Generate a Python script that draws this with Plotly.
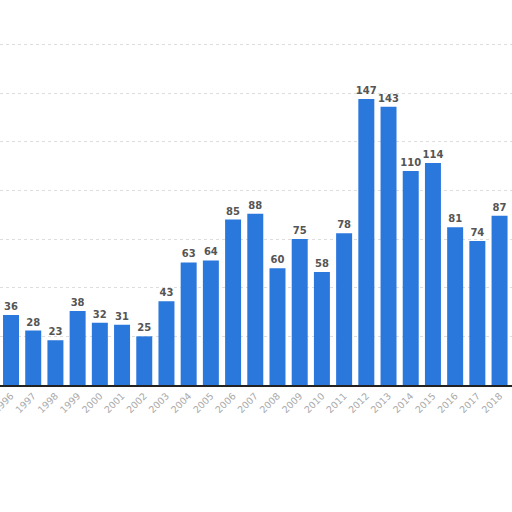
import plotly.graph_objects as go

years = [str(y) for y in range(1996, 2019)]
values = [36, 28, 23, 38, 32, 31, 25, 43, 63, 64, 85, 88, 60, 75, 58, 78,
          147, 143, 110, 114, 81, 74, 87]

fig = go.Figure(go.Bar(
    x=years, y=values,
    marker=dict(color="#2b78dd", line=dict(width=0)),
    text=[str(v) for v in values], textposition="outside",
    textfont=dict(family="DejaVu Sans", size=10, color="#555555", weight="bold"),
    cliponaxis=False,
))
fig.update_layout(
    width=512, height=512,
    margin=dict(l=0, r=0, t=0, b=127, autoexpand=False),
    paper_bgcolor="white", plot_bgcolor="white",
    bargap=0.28, showlegend=False,
    uniformtext=dict(minsize=10, mode="show"),
    xaxis=dict(type="category", range=[-0.496, 22.56], tickangle=-45,
               automargin=False,
               tickfont=dict(family="DejaVu Sans", size=9.5, color="#aaaaaa"),
               showline=True, linecolor="#222222", linewidth=1.5,
               showgrid=False, ticks="", ticklen=4),
    yaxis=dict(range=[0, 197.8], dtick=25, showgrid=True, gridcolor="#dddddd",
               griddash="dot", showticklabels=False, zeroline=False,
               automargin=False),
)
fig.write_html("out.html", config={"displayModeBar": False},
               post_script="document.body.style.margin='0';document.body.style.overflow='hidden';")
